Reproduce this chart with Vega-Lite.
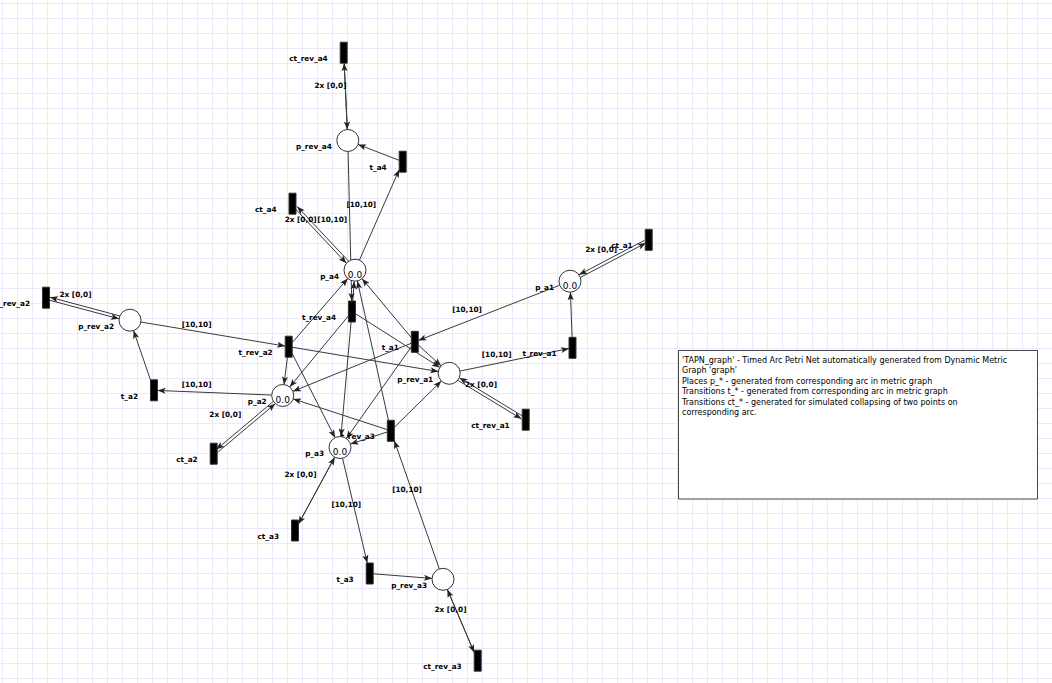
{
  "$schema": "https://vega.github.io/schema/vega-lite/v6.json",
  "width": 1052,
  "height": 683,
  "autosize": {"type": "fit", "contains": "padding"},
  "padding": 0,
  "background": "white",
  "datasets": {
    "nodes": [
      {"name": "p_rev_a4", "kind": "place", "x": 347.8, "y": 140.5},
      {"name": "p_a4", "kind": "place", "x": 355, "y": 270.2, "token": "0.0"},
      {"name": "p_rev_a2", "kind": "place", "x": 130, "y": 320.2},
      {"name": "p_a2", "kind": "place", "x": 282.7, "y": 395.5, "token": "0.0"},
      {"name": "p_a3", "kind": "place", "x": 340, "y": 447.5, "token": "0.0"},
      {"name": "p_rev_a1", "kind": "place", "x": 449.2, "y": 373.3},
      {"name": "p_a1", "kind": "place", "x": 570, "y": 281.2, "token": "0.0"},
      {"name": "p_rev_a3", "kind": "place", "x": 443, "y": 579.3},
      {"name": "ct_rev_a4", "kind": "transition", "x": 343.7, "y": 52.7},
      {"name": "t_a4", "kind": "transition", "x": 402.7, "y": 161.7},
      {"name": "ct_a4", "kind": "transition", "x": 292.5, "y": 203.7},
      {"name": "t_rev_a4", "kind": "transition", "x": 352, "y": 311.5},
      {"name": "t_a1", "kind": "transition", "x": 414.8, "y": 341.8},
      {"name": "t_rev_a2", "kind": "transition", "x": 288.7, "y": 346.7},
      {"name": "t_rev_a3", "kind": "transition", "x": 390.8, "y": 430.8},
      {"name": "ct_rev_a2", "kind": "transition", "x": 46, "y": 297.7},
      {"name": "t_a2", "kind": "transition", "x": 154, "y": 390.3},
      {"name": "ct_a2", "kind": "transition", "x": 213.7, "y": 453.7},
      {"name": "ct_a1", "kind": "transition", "x": 648.7, "y": 239.8},
      {"name": "t_rev_a1", "kind": "transition", "x": 572.5, "y": 347.8},
      {"name": "ct_rev_a1", "kind": "transition", "x": 525.7, "y": 419.7},
      {"name": "ct_a3", "kind": "transition", "x": 295, "y": 530.5},
      {"name": "t_a3", "kind": "transition", "x": 369.7, "y": 573.5},
      {"name": "ct_rev_a3", "kind": "transition", "x": 477.7, "y": 660.7}
    ],
    "edges": [
      {"s": "ct_rev_a4", "t": "p_rev_a4", "off": 0},
      {"s": "p_rev_a4", "t": "ct_rev_a4", "off": 0},
      {"s": "t_a4", "t": "p_rev_a4", "off": 0},
      {"s": "p_a4", "t": "t_a4", "off": 0},
      {"s": "p_rev_a4", "t": "t_rev_a4", "off": 0},
      {"s": "ct_a4", "t": "p_a4", "off": 1.5},
      {"s": "p_a4", "t": "ct_a4", "off": 1.5},
      {"s": "t_rev_a4", "t": "p_a4", "off": 0},
      {"s": "t_rev_a4", "t": "p_a2", "off": 0},
      {"s": "t_rev_a4", "t": "p_a3", "off": 0},
      {"s": "t_rev_a4", "t": "p_rev_a1", "off": 0},
      {"s": "t_rev_a2", "t": "p_a4", "off": 0},
      {"s": "t_rev_a2", "t": "p_a2", "off": 0},
      {"s": "t_rev_a2", "t": "p_a3", "off": 0},
      {"s": "t_rev_a2", "t": "p_rev_a1", "off": 0},
      {"s": "t_a1", "t": "p_a4", "off": 0},
      {"s": "t_a1", "t": "p_a2", "off": 0},
      {"s": "t_a1", "t": "p_a3", "off": 0},
      {"s": "t_a1", "t": "p_rev_a1", "off": 0},
      {"s": "t_rev_a3", "t": "p_a4", "off": 0},
      {"s": "t_rev_a3", "t": "p_a2", "off": 0},
      {"s": "t_rev_a3", "t": "p_a3", "off": 0},
      {"s": "t_rev_a3", "t": "p_rev_a1", "off": 0},
      {"s": "p_rev_a2", "t": "t_rev_a2", "off": 0},
      {"s": "p_a2", "t": "t_a2", "off": 0},
      {"s": "t_a2", "t": "p_rev_a2", "off": 0},
      {"s": "ct_rev_a2", "t": "p_rev_a2", "off": 1.5},
      {"s": "p_rev_a2", "t": "ct_rev_a2", "off": 1.5},
      {"s": "ct_a2", "t": "p_a2", "off": 1.5},
      {"s": "p_a2", "t": "ct_a2", "off": 1.5},
      {"s": "p_a3", "t": "t_a3", "off": 0},
      {"s": "t_a3", "t": "p_rev_a3", "off": 0},
      {"s": "p_rev_a3", "t": "t_rev_a3", "off": 0},
      {"s": "ct_a3", "t": "p_a3", "off": 0},
      {"s": "p_a3", "t": "ct_a3", "off": 0},
      {"s": "ct_rev_a3", "t": "p_rev_a3", "off": 0},
      {"s": "p_rev_a3", "t": "ct_rev_a3", "off": 0},
      {"s": "p_a1", "t": "t_a1", "off": 0},
      {"s": "p_rev_a1", "t": "t_rev_a1", "off": 0},
      {"s": "t_rev_a1", "t": "p_a1", "off": 0},
      {"s": "ct_a1", "t": "p_a1", "off": 1.5},
      {"s": "p_a1", "t": "ct_a1", "off": 1.5},
      {"s": "ct_rev_a1", "t": "p_rev_a1", "off": 1.5},
      {"s": "p_rev_a1", "t": "ct_rev_a1", "off": 1.5}
    ],
    "inscriptions": [
      {"text": "2x [0,0]", "x": 330.5, "y": 85.7},
      {"text": "[10,10]", "x": 361.3, "y": 205},
      {"text": "2x [0,0]", "x": 300.6, "y": 220.3},
      {"text": "[10,10]", "x": 332.2, "y": 220.3},
      {"text": "2x [0,0]", "x": 75.5, "y": 295},
      {"text": "[10,10]", "x": 196.6, "y": 325},
      {"text": "[10,10]", "x": 196.6, "y": 384.5},
      {"text": "2x [0,0]", "x": 225.3, "y": 415.3},
      {"text": "2x [0,0]", "x": 300.5, "y": 475.3},
      {"text": "[10,10]", "x": 346.3, "y": 505},
      {"text": "[10,10]", "x": 407, "y": 490},
      {"text": "2x [0,0]", "x": 450.5, "y": 610.3},
      {"text": "[10,10]", "x": 467, "y": 310},
      {"text": "[10,10]", "x": 496.6, "y": 355},
      {"text": "2x [0,0]", "x": 601.2, "y": 250},
      {"text": "2x [0,0]", "x": 481, "y": 385}
    ],
    "note": [
      {"x": 678.5, "y": 350.5, "x2": 1037.5, "y2": 499, "tx": 682, "ty": 357,
       "text": "'TAPN_graph' - Timed Arc Petri Net automatically generated from Dynamic Metric\nGraph 'graph'\nPlaces p_* - generated from corresponding arc in metric graph\nTransitions t_* - generated from corresponding arc in metric graph\nTransitions ct_* - generated for simulated collapsing of two points on\ncorresponding arc."}
    ]
  },
  "layer": [
    {
      "data": {"name": "edges"},
      "transform": [
        {"lookup": "s", "from": {"data": {"name": "nodes"}, "key": "name", "fields": ["x", "y", "kind"]}, "as": ["sx", "sy", "sk"]},
        {"lookup": "t", "from": {"data": {"name": "nodes"}, "key": "name", "fields": ["x", "y", "kind"]}, "as": ["tx", "ty", "tk"]},
        {"calculate": "datum.tx - datum.sx", "as": "dx"},
        {"calculate": "datum.ty - datum.sy", "as": "dy"},
        {"calculate": "sqrt(datum.dx * datum.dx + datum.dy * datum.dy)", "as": "len"},
        {"calculate": "datum.sk == 'place' ? 11 / datum.len : min(3.5 / abs(datum.dx), 10.5 / abs(datum.dy))", "as": "fs"},
        {"calculate": "datum.tk == 'place' ? 11 / datum.len : min(3.5 / abs(datum.dx), 10.5 / abs(datum.dy))", "as": "ft"},
        {"calculate": "-datum.dy / datum.len * datum.off", "as": "ox"},
        {"calculate": "datum.dx / datum.len * datum.off", "as": "oy"},
        {"calculate": "datum.sx + datum.dx * datum.fs + datum.ox", "as": "x1"},
        {"calculate": "datum.sy + datum.dy * datum.fs + datum.oy", "as": "y1"},
        {"calculate": "datum.tx - datum.dx * datum.ft + datum.ox", "as": "x2"},
        {"calculate": "datum.ty - datum.dy * datum.ft + datum.oy", "as": "y2"},
        {"calculate": "atan2(datum.dx, -datum.dy) * 180 / PI", "as": "ang"}
      ],
      "layer": [
        {
          "mark": {"type": "rule", "color": "#3a3a3a", "strokeWidth": 1},
          "encoding": {
            "x": {"field": "x1", "type": "quantitative", "title": null,
                  "scale": {"domain": [0, 1052], "nice": false, "zero": false},
                  "axis": {"grid": true, "tickCount": 500, "values": [2,17,32,47,62,77,92,107,122,137,152,167,182,197,212,227,242,257,272,287,302,317,332,347,362,377,392,407,422,437,452,467,482,497,512,527,542,557,572,587,602,617,632,647,662,677,692,707,722,737,752,767,782,797,812,827,842,857,872,887,902,917,932,947,962,977,992,1007,1022,1037]}},
            "y": {"field": "y1", "type": "quantitative", "title": null,
                  "scale": {"domain": [0, 683], "nice": false, "zero": false, "reverse": true},
                  "axis": {"grid": true, "tickCount": 500, "values": [3,18,33,48,63,78,93,108,123,138,153,168,183,198,213,228,243,258,273,288,303,318,333,348,363,378,393,408,423,438,453,468,483,498,513,528,543,558,573,588,603,618,633,648,663,678]}},
            "x2": {"field": "x2"},
            "y2": {"field": "y2"}
          }
        },
        {
          "mark": {"type": "point", "shape": "M0,0 L-0.38,1 L0,0.78 L0.38,1 Z", "filled": true, "color": "#222222", "opacity": 1, "size": 256},
          "encoding": {
            "x": {"field": "x2", "type": "quantitative", "title": null, "scale": {"domain": [0, 1052], "nice": false, "zero": false}},
            "y": {"field": "y2", "type": "quantitative", "title": null, "scale": {"domain": [0, 683], "nice": false, "zero": false, "reverse": true}},
            "angle": {"field": "ang", "type": "quantitative", "scale": null}
          }
        }
      ]
    },
    {
      "data": {"name": "nodes"},
      "mark": {"type": "text", "align": "right", "baseline": "middle", "dx": -16, "dy": 6.3, "font": "DejaVu Sans", "fontSize": 7.3, "fontWeight": "bold", "color": "#000000", "clip": true},
      "encoding": {
        "x": {"field": "x", "type": "quantitative", "title": null, "scale": {"domain": [0, 1052], "nice": false, "zero": false}},
        "y": {"field": "y", "type": "quantitative", "title": null, "scale": {"domain": [0, 683], "nice": false, "zero": false, "reverse": true}},
        "text": {"field": "name"}
      }
    },
    {
      "data": {"name": "inscriptions"},
      "mark": {"type": "text", "align": "center", "baseline": "middle", "font": "DejaVu Sans", "fontSize": 7.3, "fontWeight": "bold", "color": "#000000", "clip": true},
      "encoding": {
        "x": {"field": "x", "type": "quantitative", "title": null, "scale": {"domain": [0, 1052], "nice": false, "zero": false}},
        "y": {"field": "y", "type": "quantitative", "title": null, "scale": {"domain": [0, 683], "nice": false, "zero": false, "reverse": true}},
        "text": {"field": "text"}
      }
    },
    {
      "data": {"name": "nodes"},
      "transform": [{"filter": "datum.kind == 'place'"}],
      "mark": {"type": "point", "shape": "circle", "size": 484, "filled": true, "fill": "white", "stroke": "#333333", "strokeWidth": 1, "opacity": 1},
      "encoding": {
        "x": {"field": "x", "type": "quantitative", "title": null, "scale": {"domain": [0, 1052], "nice": false, "zero": false}},
        "y": {"field": "y", "type": "quantitative", "title": null, "scale": {"domain": [0, 683], "nice": false, "zero": false, "reverse": true}}
      }
    },
    {
      "data": {"name": "nodes"},
      "transform": [{"filter": "datum.kind == 'transition'"}],
      "mark": {"type": "point", "shape": "M-0.333,-1 L0.333,-1 L0.333,1 L-0.333,1 Z", "size": 441, "filled": true, "fill": "black", "stroke": "#333333", "strokeWidth": 1, "opacity": 1},
      "encoding": {
        "x": {"field": "x", "type": "quantitative", "title": null, "scale": {"domain": [0, 1052], "nice": false, "zero": false}},
        "y": {"field": "y", "type": "quantitative", "title": null, "scale": {"domain": [0, 683], "nice": false, "zero": false, "reverse": true}}
      }
    },
    {
      "data": {"name": "nodes"},
      "transform": [{"filter": "isValid(datum.token)"}],
      "mark": {"type": "text", "align": "center", "baseline": "middle", "dy": 4.5, "font": "DejaVu Sans", "fontSize": 9, "color": "#000000"},
      "encoding": {
        "x": {"field": "x", "type": "quantitative", "title": null, "scale": {"domain": [0, 1052], "nice": false, "zero": false}},
        "y": {"field": "y", "type": "quantitative", "title": null, "scale": {"domain": [0, 683], "nice": false, "zero": false, "reverse": true}},
        "text": {"field": "token"}
      }
    },
    {
      "data": {"name": "note"},
      "mark": {"type": "rect", "fill": "white", "stroke": "#444444", "strokeWidth": 1},
      "encoding": {
        "x": {"field": "x", "type": "quantitative", "title": null, "scale": {"domain": [0, 1052], "nice": false, "zero": false}},
        "y": {"field": "y", "type": "quantitative", "title": null, "scale": {"domain": [0, 683], "nice": false, "zero": false, "reverse": true}},
        "x2": {"field": "x2"},
        "y2": {"field": "y2"}
      }
    },
    {
      "data": {"name": "note"},
      "mark": {"type": "text", "align": "left", "baseline": "top", "lineBreak": "\n", "lineHeight": 10.4, "font": "DejaVu Sans", "fontSize": 8, "color": "#000000"},
      "encoding": {
        "x": {"field": "tx", "type": "quantitative", "title": null, "scale": {"domain": [0, 1052], "nice": false, "zero": false}},
        "y": {"field": "ty", "type": "quantitative", "title": null, "scale": {"domain": [0, 683], "nice": false, "zero": false, "reverse": true}},
        "text": {"field": "text"}
      }
    }
  ],
  "config": {
    "view": {"stroke": null},
    "axis": {"domain": false, "ticks": false, "labels": false, "grid": false, "gridColor": "#ebe8fc", "gridWidth": 1, "gridOpacity": 1, "title": null}
  }
}
